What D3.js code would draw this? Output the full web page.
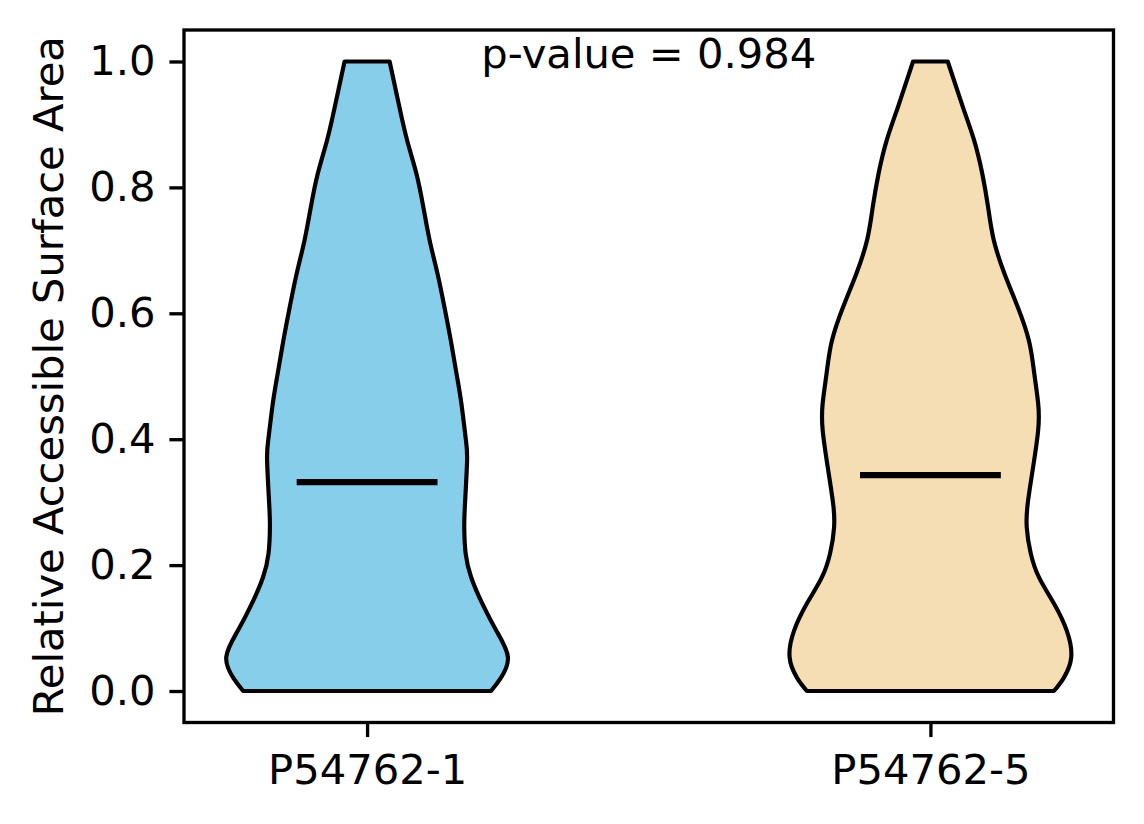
<!DOCTYPE html>
<html>
<script src="https://cdn.jsdelivr.net/npm/d3@7"></script>
<style>
  body, html { margin: 0; padding: 0; background: #fff; }
  svg { display: block; }
  text { font-family: "DejaVu Sans", sans-serif; }
</style>
<body>
<svg width="1144" height="824"></svg>
<script>

  // categories and summary values
  var groups = ['P54762-1', 'P54762-5'];
  var colors = ['#87ceeb', '#f5deb3'];
  var medians = [0.332, 0.343];
  var pValue = 0.984;
  var yTicks = [0.0, 0.2, 0.4, 0.6, 0.8, 1.0];

  // violin outlines: value along y and relative density (1 = widest)
  var levelsA = [0, 0.021, 0.054, 0.095, 0.138, 0.180, 0.218, 0.259, 0.297, 0.366, 0.402, 0.456, 0.504, 0.556, 0.609, 0.663, 0.715, 0.768, 0.822, 0.874, 0.927, 1.0];
  var densityA = [0.88, 0.95, 1.0, 0.92, 0.82, 0.74, 0.70, 0.69, 0.695, 0.71, 0.70, 0.67, 0.635, 0.595, 0.55, 0.50, 0.445, 0.40, 0.35, 0.285, 0.23, 0.16];

  var levelsB = [0, 0.021, 0.054, 0.096, 0.139, 0.180, 0.219, 0.260, 0.298, 0.351, 0.414, 0.457, 0.505, 0.556, 0.610, 0.663, 0.716, 0.768, 0.822, 0.875, 0.928, 1.0];
  var densityB = [0.877, 0.947, 1.0, 0.968, 0.877, 0.772, 0.712, 0.684, 0.691, 0.726, 0.765, 0.765, 0.737, 0.70, 0.62, 0.526, 0.45, 0.41, 0.368, 0.31, 0.23, 0.123];

  var shapes = [
    levelsA.map(function (v, i) { return {v: v, d: densityA[i]}; }),
    levelsB.map(function (v, i) { return {v: v, d: densityB[i]}; })
  ];

  var svg = d3.select('svg');
  var box = {left: 184, right: 1113.5, top: 30, bottom: 722.5};
  var fs = 41.67, lw = 3.33;

  var x = d3.scaleLinear().domain([0.675, 2.325]).range([box.left, box.right]);
  var y = d3.scaleLinear().domain([-0.05, 1.05]).range([box.bottom, box.top]);
  var halfWidth = 0.25;

  // violins
  shapes.forEach(function (shape, i) {
    var c = i + 1;
    var area = d3.area()
      .y(function (d) { return y(d.v); })
      .x0(function (d) { return x(c - d.d * halfWidth); })
      .x1(function (d) { return x(c + d.d * halfWidth); })
      .curve(d3.curveNatural);

    svg.append('path')
      .datum(shape)
      .attr('d', area)
      .style('fill', colors[i])
      .style('stroke', '#000')
      .style('stroke-width', 4.17)
      .style('stroke-linejoin', 'round');

    svg.append('line')
      .attr('x1', x(c - 0.125))
      .attr('x2', x(c + 0.125))
      .attr('y1', y(medians[i]))
      .attr('y2', y(medians[i]))
      .style('stroke', '#000')
      .style('stroke-width', 6.25);
  });

  // axes
  var yAxis = d3.axisLeft(y).tickValues(yTicks).tickFormat(d3.format('.1f'))
    .tickSize(14.6).tickSizeOuter(0).tickPadding(14);
  var xAxis = d3.axisBottom(x).tickValues([1, 2]).tickFormat(function (d) { return groups[d - 1]; })
    .tickSize(14.6).tickSizeOuter(0).tickPadding(17);

  var gy = svg.append('g').attr('transform', 'translate(' + box.left + ',0)').call(yAxis);
  var gx = svg.append('g').attr('transform', 'translate(0,' + box.bottom + ')').call(xAxis);

  [gx, gy].forEach(function (g) {
    g.select('.domain').remove();
    g.selectAll('line').style('stroke', '#000').style('stroke-width', lw);
    g.selectAll('text').style('font-size', fs + 'px').style('font-family', '"DejaVu Sans", sans-serif').style('fill', '#000');
  });

  // frame
  svg.append('rect')
    .attr('x', box.left).attr('y', box.top)
    .attr('width', box.right - box.left).attr('height', box.bottom - box.top)
    .style('fill', 'none').style('stroke', '#000').style('stroke-width', lw);

  // y label
  svg.append('text')
    .attr('transform', 'translate(63,' + ((box.top + box.bottom) / 2) + ') rotate(-90)')
    .attr('text-anchor', 'middle')
    .style('font-size', fs + 'px')
    .text('Relative Accessible Surface Area');

  // p-value annotation
  svg.append('text')
    .attr('x', x(1.5))
    .attr('y', y(0.99))
    .attr('text-anchor', 'middle')
    .style('font-size', fs + 'px')
    .text('p-value = ' + pValue);

</script>
</body>
</html>
